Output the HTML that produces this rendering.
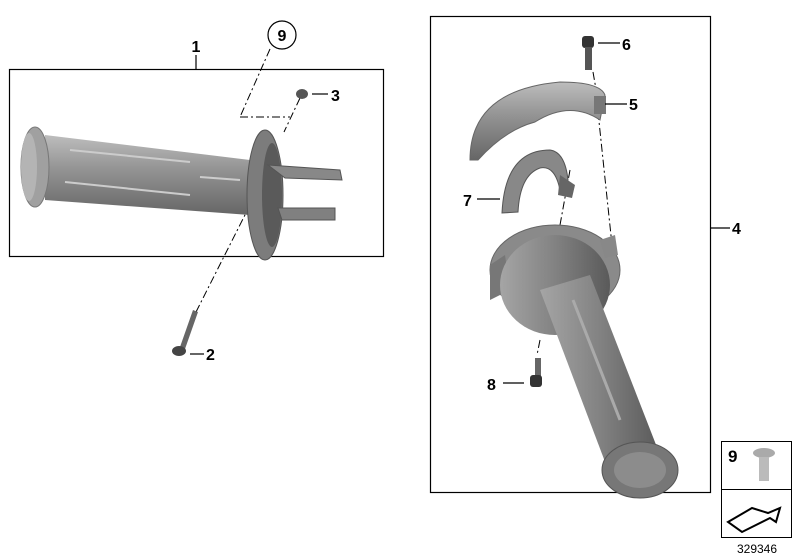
<!DOCTYPE html>
<html><head><style>
html,body{margin:0;padding:0;background:#fff;}
svg{display:block;}
text{font-family:"Liberation Sans",Arial,sans-serif;font-weight:bold;fill:#000;}
</style></head><body>
<svg width="800" height="560" viewBox="0 0 800 560" xmlns="http://www.w3.org/2000/svg">
<defs>
<linearGradient id="g1" x1="0" y1="0" x2="0" y2="1">
<stop offset="0" stop-color="#bdbdbd"/><stop offset="0.4" stop-color="#969696"/><stop offset="1" stop-color="#666"/>
</linearGradient>
<linearGradient id="g2" x1="0" y1="0" x2="1" y2="0">
<stop offset="0" stop-color="#a5a5a5"/><stop offset="0.5" stop-color="#828282"/><stop offset="1" stop-color="#5a5a5a"/>
</linearGradient>
</defs>
<rect x="9.5" y="69.5" width="374" height="187" fill="none" stroke="#000" stroke-width="1.2"/>
<line x1="196" y1="55" x2="196" y2="69" stroke="#000" stroke-width="1.2"/>
<text x="196" y="52" font-size="16" text-anchor="middle">1</text>
<circle cx="282" cy="35" r="14" fill="#fff" stroke="#000" stroke-width="1.2"/>
<text x="282" y="41" font-size="16" text-anchor="middle">9</text>
<g stroke="#000" stroke-width="1" fill="none" stroke-dasharray="8,3,2,3">
<line x1="270" y1="49" x2="240" y2="117"/>
<line x1="240" y1="117" x2="290" y2="117"/>
<line x1="300" y1="98" x2="284" y2="132"/>
<line x1="250" y1="205" x2="196" y2="312"/>
</g>
<path d="M45 135 L250 160 L250 215 L45 200 Z" fill="url(#g1)"/>
<ellipse cx="35" cy="167" rx="14" ry="40" fill="#a0a0a0" stroke="#777"/>
<ellipse cx="29" cy="167" rx="8" ry="34" fill="#b4b4b4"/>
<path d="M70 150 L190 162 M65 182 L190 195 M200 177 L240 180" stroke="#cccccc" stroke-width="2"/>
<ellipse cx="265" cy="195" rx="18" ry="65" fill="#7c7c7c" stroke="#555"/>
<ellipse cx="272" cy="195" rx="10" ry="52" fill="#5a5a5a"/>
<path d="M268 165 L340 170 L342 180 L285 178 Z" fill="#888" stroke="#555"/>
<path d="M278 208 L335 208 L335 220 L282 220 Z" fill="#808080" stroke="#555"/>
<ellipse cx="302" cy="94" rx="6" ry="5" fill="#555"/>
<line x1="312" y1="94" x2="328" y2="94" stroke="#000" stroke-width="1.2"/>
<text x="331" y="101" font-size="16">3</text>
<path d="M180 347 L193 310 L198 312 L185 349 Z" fill="#666"/>
<ellipse cx="179" cy="351" rx="7" ry="5" fill="#444"/>
<line x1="190" y1="354" x2="204" y2="354" stroke="#000" stroke-width="1.2"/>
<text x="206" y="360" font-size="16">2</text>
<rect x="430.5" y="16.5" width="280" height="476" fill="none" stroke="#000" stroke-width="1.2"/>
<line x1="710" y1="228" x2="730" y2="228" stroke="#000" stroke-width="1.2"/>
<text x="732" y="234" font-size="16">4</text>
<rect x="582" y="36" width="12" height="12" rx="3" fill="#333"/>
<rect x="585" y="47" width="7" height="23" fill="#555"/>
<line x1="598" y1="43" x2="620" y2="43" stroke="#000" stroke-width="1.2"/>
<text x="622" y="50" font-size="16">6</text>
<g stroke="#000" stroke-width="1" fill="none" stroke-dasharray="8,3,2,3">
<line x1="593" y1="72" x2="597" y2="95"/>
<line x1="598" y1="112" x2="612" y2="245"/>
<line x1="570" y1="170" x2="560" y2="225"/>
<line x1="540" y1="340" x2="537" y2="355"/>
</g>
<path d="M470 160 Q470 90 560 82 Q600 82 605 95 L600 120 Q570 100 535 122 Q505 130 478 160 Z" fill="url(#g1)" stroke="#666"/>
<rect x="594" y="96" width="12" height="18" fill="#777"/>
<line x1="605" y1="104" x2="627" y2="104" stroke="#000" stroke-width="1.2"/>
<text x="629" y="110" font-size="16">5</text>
<path d="M502 213 Q505 150 550 150 Q565 152 568 180 L560 190 Q555 165 540 168 Q520 175 518 212 Z" fill="#888" stroke="#555"/>
<path d="M560 175 L575 185 L572 198 L558 195 Z" fill="#666"/>
<line x1="477" y1="199" x2="500" y2="199" stroke="#000" stroke-width="1.2"/>
<text x="463" y="206" font-size="16">7</text>
<ellipse cx="555" cy="270" rx="65" ry="45" fill="#8a8a8a" stroke="#666"/>
<path d="M490 265 L505 255 L510 290 L490 300 Z" fill="#777"/>
<path d="M600 240 L615 235 L618 255 L605 258 Z" fill="#888"/>
<ellipse cx="555" cy="285" rx="55" ry="50" fill="url(#g2)"/>
<path d="M540 290 L590 275 L660 455 L610 475 Z" fill="url(#g2)"/>
<ellipse cx="640" cy="470" rx="38" ry="28" fill="#777" stroke="#555"/>
<ellipse cx="640" cy="470" rx="26" ry="18" fill="#8c8c8c"/>
<path d="M573 300 L620 420" stroke="#aaa" stroke-width="3"/>
<rect x="535" y="358" width="6" height="20" fill="#666"/>
<rect x="530" y="375" width="12" height="12" rx="3" fill="#333"/>
<line x1="503" y1="383" x2="524" y2="383" stroke="#000" stroke-width="1.2"/>
<text x="487" y="390" font-size="16">8</text>
<rect x="721.5" y="441.5" width="70" height="48" fill="#fff" stroke="#000" stroke-width="1"/>
<rect x="721.5" y="489.5" width="70" height="48" fill="#fff" stroke="#000" stroke-width="1"/>
<text x="728" y="462" font-size="17">9</text>
<ellipse cx="764" cy="453" rx="11" ry="5" fill="#aaa"/>
<rect x="759" y="457" width="10" height="24" fill="#bbb"/>
<path d="M728 522 L752 508 L768 513 L780 508 L776 522 L770 518 L742 532 Z" fill="#fff" stroke="#000" stroke-width="2"/>
<text x="757" y="553" font-size="12" text-anchor="middle" style="font-weight:normal">329346</text>
</svg>
</body></html>
